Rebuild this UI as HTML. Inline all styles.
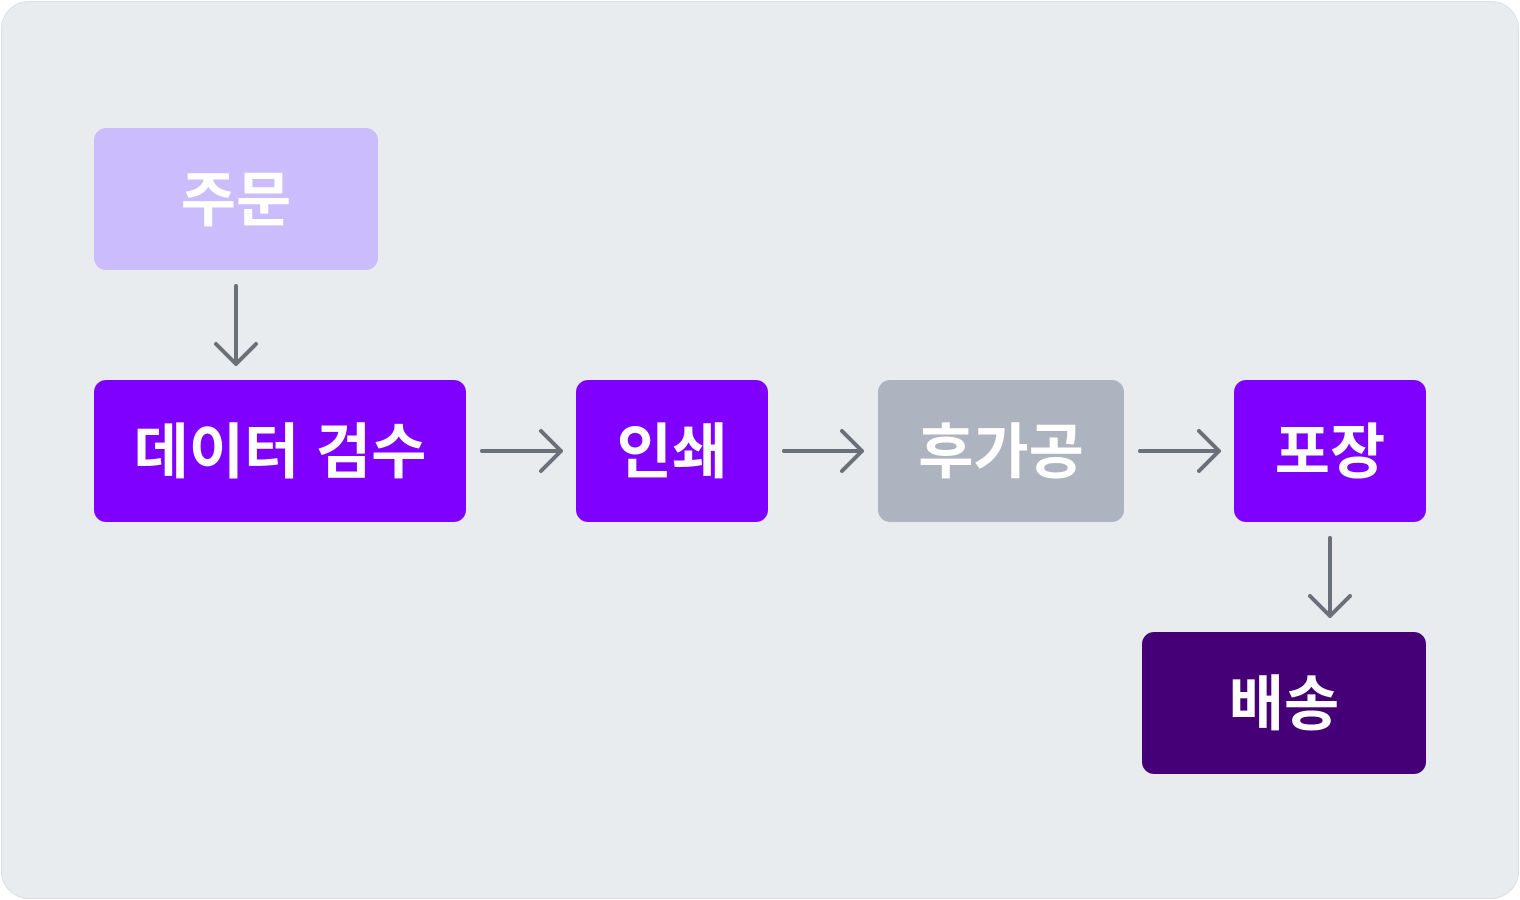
<!DOCTYPE html>
<html><head><meta charset="utf-8"><style>
html,body{margin:0;padding:0;background:#fff;}
.wrap{position:relative;width:1520px;height:900px;}
.bg{position:absolute;left:1px;top:1px;width:1516px;height:896px;background:#e8ecee;border:1px solid #d9dfe7;border-radius:28px;}
.n{position:absolute;border-radius:12px;color:#fff;font-family:"Liberation Sans","Noto Sans CJK KR",sans-serif;font-weight:700;font-size:60px;display:flex;align-items:center;justify-content:center;letter-spacing:0;box-sizing:border-box;padding-bottom:8px;}
svg{position:absolute;left:0;top:0;}
</style></head><body><div class="wrap">
<div class="bg"></div>
<div class="n" style="left:94px;top:128px;width:284px;height:142px;background:#cbbdfd;">주문</div>
<div class="n" style="left:94px;top:380px;width:372px;height:142px;background:#8000ff;">데이터 검수</div>
<div class="n" style="left:576px;top:380px;width:192px;height:142px;background:#8000ff;">인쇄</div>
<div class="n" style="left:878px;top:380px;width:246px;height:142px;background:#adb3bf;">후가공</div>
<div class="n" style="left:1234px;top:380px;width:192px;height:142px;background:#8000ff;">포장</div>
<div class="n" style="left:1142px;top:632px;width:284px;height:142px;background:#450078;">배송</div>
<svg width="1520" height="900" fill="none" stroke="#6b6f78" stroke-width="4" stroke-linecap="round" stroke-linejoin="round">
<path d="M236 286V364M216 344L236 364L256 344"/>
<path d="M482 451H561M541 431L561 451L541 471"/>
<path d="M784 451H862M842 431L862 451L842 471"/>
<path d="M1140 451H1219M1199 431L1219 451L1199 471"/>
<path d="M1330 538V616M1310 596L1330 616L1350 596"/>
</svg>
</div></body></html>
